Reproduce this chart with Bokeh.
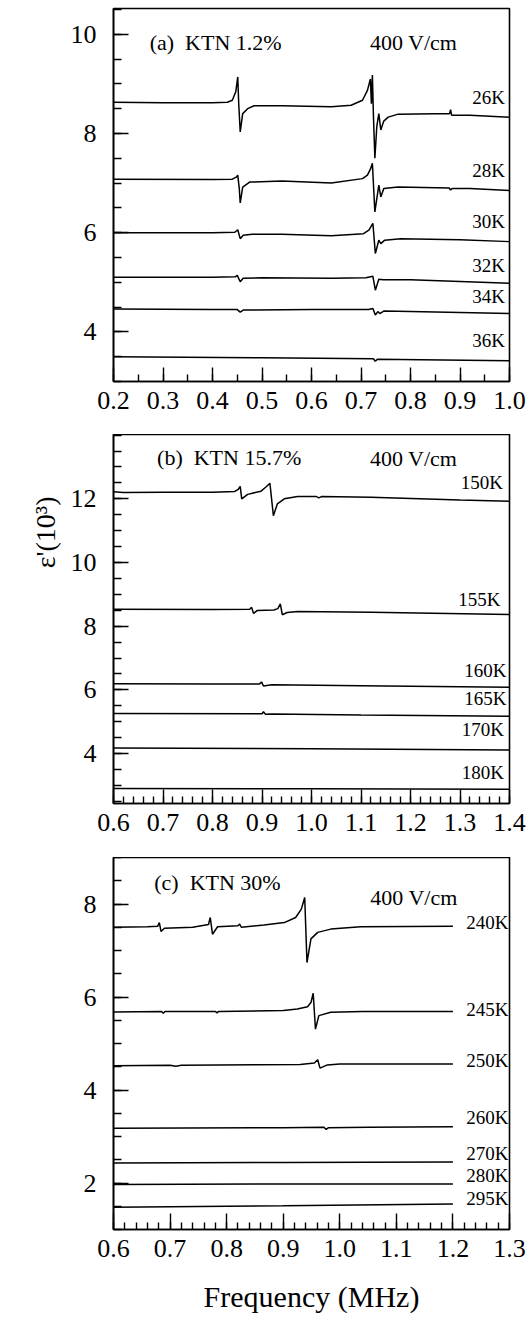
import numpy as np
from bokeh.plotting import figure
from bokeh.layouts import column
from bokeh.models import FixedTicker, NumeralTickFormatter, Label, Range1d, ColumnDataSource, Title
from bokeh.core.properties import value
from bokeh.embed import file_html
from bokeh.resources import INLINE

FONT = "Liberation Serif"

# ---------------- Panel (a): KTN 1.2%  (frequency MHz, eps' x10^3) ----------------
a26_f = [0.20, 0.30, 0.40, 0.430, 0.440, 0.447, 0.451, 0.453, 0.456, 0.461, 0.471, 0.484, 0.54, 0.64, 0.68,
         0.703, 0.713, 0.719, 0.721, 0.723, 0.725, 0.728, 0.732, 0.736, 0.740, 0.746, 0.755, 0.775, 0.85, 0.879,
         0.881, 0.883, 0.92, 1.00]
a26_e = [8.63, 8.62, 8.62, 8.63, 8.67, 8.84, 9.14, 8.60, 8.03, 8.40, 8.50, 8.56, 8.56, 8.54, 8.57,
         8.67, 8.87, 9.10, 8.60, 9.18, 8.40, 7.50, 8.15, 8.40, 8.07, 8.25, 8.33, 8.39, 8.40, 8.40,
         8.48, 8.37, 8.37, 8.33]
a28_f = [0.20, 0.40, 0.440, 0.448, 0.451, 0.454, 0.456, 0.461, 0.475, 0.54, 0.64, 0.703, 0.713, 0.719, 0.723,
         0.728, 0.736, 0.740, 0.746, 0.775, 0.878, 0.881, 0.884, 0.92, 1.00]
a28_e = [7.08, 7.07, 7.08, 7.12, 7.16, 6.90, 6.60, 6.92, 7.02, 7.04, 7.00, 7.09, 7.16, 7.28, 7.40,
         6.42, 6.96, 6.72, 6.89, 6.92, 6.90, 6.86, 6.89, 6.89, 6.85]
a30_f = [0.20, 0.40, 0.445, 0.451, 0.456, 0.462, 0.48, 0.54, 0.64, 0.705, 0.716, 0.724, 0.729, 0.736, 0.740,
         0.748, 0.78, 0.90, 1.00]
a30_e = [6.00, 6.00, 6.01, 6.06, 5.88, 5.95, 5.97, 5.97, 5.94, 5.98, 6.05, 6.19, 5.58, 5.85, 5.78,
         5.85, 5.88, 5.86, 5.82]
a32_f = [0.20, 0.40, 0.446, 0.450, 0.456, 0.462, 0.50, 0.64, 0.710, 0.724, 0.729, 0.736, 0.745, 0.80, 1.00]
a32_e = [5.10, 5.10, 5.11, 5.14, 5.01, 5.08, 5.09, 5.08, 5.09, 5.12, 4.84, 5.06, 5.05, 5.05, 4.98]
a34_f = [0.20, 0.40, 0.450, 0.456, 0.462, 0.60, 0.715, 0.724, 0.729, 0.734, 0.738, 0.746, 0.80, 1.00]
a34_e = [4.46, 4.45, 4.45, 4.40, 4.44, 4.45, 4.45, 4.47, 4.34, 4.41, 4.37, 4.42, 4.41, 4.37]
a36_f = [0.20, 0.50, 0.725, 0.729, 0.733, 1.00]
a36_e = [3.50, 3.48, 3.46, 3.41, 3.45, 3.42]
a_labels = ["26K", "28K", "30K", "32K", "34K", "36K"]
a_label_y = [8.72, 7.26, 6.22, 5.34, 4.72, 3.82]
a_label_x = [0.991, 0.991, 0.991, 0.991, 0.991, 0.991]

# ---------------- Panel (b): KTN 15.7% ----------------
b150_f = [0.60, 0.62, 0.70, 0.80, 0.845, 0.852, 0.856, 0.859, 0.871, 0.898, 0.908, 0.916, 0.923, 0.931, 0.945,
          0.972, 1.01, 1.015, 1.02, 1.12, 1.30, 1.40]
b150_e = [12.22, 12.20, 12.21, 12.21, 12.23, 12.30, 12.39, 12.00, 12.14, 12.24, 12.37, 12.49, 11.47, 11.84, 12.00,
          12.07, 12.07, 12.03, 12.07, 12.05, 11.96, 11.92]
b155_f = [0.60, 0.80, 0.875, 0.879, 0.883, 0.890, 0.924, 0.932, 0.937, 0.941, 0.951, 0.972, 1.12, 1.40]
b155_e = [8.53, 8.52, 8.53, 8.59, 8.40, 8.49, 8.51, 8.55, 8.70, 8.36, 8.43, 8.46, 8.44, 8.37]
b160_f = [0.60, 0.80, 0.895, 0.899, 0.903, 0.920, 1.10, 1.40]
b160_e = [6.19, 6.18, 6.18, 6.25, 6.12, 6.16, 6.13, 6.08]
b165_f = [0.60, 0.90, 0.903, 0.907, 0.920, 1.10, 1.40]
b165_e = [5.26, 5.25, 5.31, 5.23, 5.24, 5.21, 5.17]
b170_f = [0.60, 1.00, 1.40]
b170_e = [4.17, 4.15, 4.11]
b180_f = [0.60, 1.00, 1.40]
b180_e = [2.90, 2.89, 2.88]
b_labels = ["150K", "155K", "160K", "165K", "170K", "180K"]
b_label_y = [12.52, 8.85, 6.60, 5.74, 4.74, 3.40]
b_label_x = [1.387, 1.382, 1.394, 1.394, 1.389, 1.389]

# ---------------- Panel (c): KTN 30% ----------------
c240_f = [0.60, 0.66, 0.678, 0.681, 0.684, 0.69, 0.74, 0.768, 0.771, 0.775, 0.784, 0.82, 0.823, 0.826, 0.866,
          0.902, 0.922, 0.932, 0.938, 0.942, 0.949, 0.961, 0.984, 1.037, 1.20]
c240_e = [7.50, 7.51, 7.52, 7.60, 7.41, 7.48, 7.50, 7.56, 7.71, 7.35, 7.51, 7.53, 7.57, 7.50, 7.55,
          7.60, 7.71, 7.89, 8.14, 6.74, 7.25, 7.39, 7.46, 7.51, 7.52]
c245_f = [0.60, 0.685, 0.688, 0.691, 0.78, 0.783, 0.786, 0.90, 0.925, 0.943, 0.949, 0.953, 0.957, 0.963, 0.984,
          1.04, 1.20]
c245_e = [5.68, 5.69, 5.65, 5.69, 5.69, 5.66, 5.69, 5.71, 5.74, 5.79, 5.88, 6.08, 5.31, 5.60, 5.67,
          5.69, 5.69]
c250_f = [0.60, 0.70, 0.71, 0.72, 0.93, 0.955, 0.961, 0.965, 0.978, 1.00, 1.20]
c250_e = [4.52, 4.53, 4.51, 4.53, 4.55, 4.58, 4.65, 4.47, 4.54, 4.56, 4.56]
c260_f = [0.60, 0.90, 0.972, 0.976, 0.980, 1.05, 1.20]
c260_e = [3.18, 3.19, 3.20, 3.15, 3.19, 3.20, 3.21]
c270_f = [0.60, 0.90, 1.20]
c270_e = [2.43, 2.44, 2.45]
c280_f = [0.60, 0.90, 1.20]
c280_e = [1.97, 1.98, 1.98]
c295_f = [0.60, 0.90, 1.20]
c295_e = [1.48, 1.51, 1.55]
c_labels = ["240K", "245K", "250K", "260K", "270K", "280K", "295K"]
c_label_y = [7.60, 5.74, 4.63, 3.41, 2.64, 2.16, 1.66]
c_label_x = [1.298, 1.298, 1.298, 1.298, 1.298, 1.298, 1.298]

# ticks
a_xticks = [0.2, 0.3, 0.4, 0.5, 0.6, 0.7, 0.8, 0.9, 1.0]
b_xticks = [0.6, 0.7, 0.8, 0.9, 1.0, 1.1, 1.2, 1.3, 1.4]
c_xticks = [0.6, 0.7, 0.8, 0.9, 1.0, 1.1, 1.2, 1.3]
a_yticks = [4, 6, 8, 10]
b_yticks = [4, 6, 8, 10, 12]
c_yticks = [2, 4, 6, 8]

field_text = "400 V/cm"
SP = "\u2002"


def make_panel(xr, yr, height, btop, bbottom, xt, xminor_step, yt, x_tick_in):
    p = figure(width=531, height=height, x_range=Range1d(*xr), y_range=Range1d(*yr),
               output_backend="svg", toolbar_location=None,
               min_border_left=113, min_border_right=22, min_border_top=btop, min_border_bottom=bbottom,
               background_fill_color="white", border_fill_color="white")
    p.grid.visible = False
    p.outline_line_color = "black"
    p.outline_line_width = 1.6
    p.outline_line_alpha = 1.0
    xminor = list(np.round(np.arange(xr[0], xr[1] + 1e-9, xminor_step), 4))
    yminor = list(np.round(np.arange(np.ceil(yr[0] * 2) / 2, yr[1] + 1e-9, 0.5), 3))
    xa = p.xaxis[0]
    xa.ticker = FixedTicker(ticks=xt, minor_ticks=xminor)
    xa.formatter = NumeralTickFormatter(format="0.0")
    xa.major_tick_in = x_tick_in
    xa.major_tick_out = 0
    xa.minor_tick_in = 7
    xa.minor_tick_out = 0
    xa.major_label_standoff = 10
    ya = p.yaxis[0]
    ya.ticker = FixedTicker(ticks=yt, minor_ticks=yminor)
    ya.major_tick_in = 15
    ya.major_tick_out = 0
    ya.minor_tick_in = 8
    ya.minor_tick_out = 0
    ya.major_label_standoff = 17
    for ax in (xa, ya):
        ax.axis_line_color = "black"
        ax.axis_line_width = 1.6
        ax.major_tick_line_color = "black"
        ax.major_tick_line_width = 1.4
        ax.minor_tick_line_color = "black"
        ax.minor_tick_line_width = 1.4
        ax.major_label_text_font = FONT
        ax.major_label_text_font_size = "26px"
        ax.major_label_text_font_style = "normal"
        ax.major_label_text_color = "black"
    return p


def add_curves(p, curves):
    for f, e in curves:
        p.line(f, e, line_color="black", line_width=1.5)


def add_labels(p, xs, ys, texts):
    src = ColumnDataSource(dict(x=xs, y=ys, t=texts))
    p.text(x="x", y="y", text="t", source=src, text_font=value(FONT), text_font_size="19px",
           text_align="right", text_baseline="middle", text_color="black")


def add_note(p, x, y, txt):
    p.add_layout(Label(x=x, y=y, text=txt, text_font=FONT, text_font_size="22px",
                       text_align="left", text_baseline="middle", text_color="black"))


# (a)
pa = make_panel((0.2, 1.0), (3.0, 10.52), 434, 8, 53, a_xticks, 0.05, a_yticks, 14)
add_curves(pa, [(a26_f, a26_e), (a28_f, a28_e), (a30_f, a30_e), (a32_f, a32_e), (a34_f, a34_e), (a36_f, a36_e)])
add_labels(pa, a_label_x, a_label_y, a_labels)
add_note(pa, 0.273, 9.84, "(a)" + SP + "KTN 1.2%")
add_note(pa, 0.718, 9.84, field_text)

# (b)
pb = make_panel((0.6, 1.4), (2.43, 14.02), 423, 0, 54, b_xticks, 0.02, b_yticks, 14)
add_curves(pb, [(b150_f, b150_e), (b155_f, b155_e), (b160_f, b160_e), (b165_f, b165_e), (b170_f, b170_e), (b180_f, b180_e)])
add_labels(pb, b_label_x, b_label_y, b_labels)
add_note(pb, 0.688, 13.29, "(b)" + SP + "KTN 15.7%")
add_note(pb, 1.118, 13.26, field_text)
pb.add_layout(Title(text="ε'(10³)", align="right", offset=62, text_font=FONT, text_font_size="28px",
                    text_font_style="normal", text_color="black", standoff=14), "left")

# (c)
pc = make_panel((0.6, 1.3), (1.0, 9.0), 463, 0, 91, c_xticks, 0.02, c_yticks, 16)
add_curves(pc, [(c240_f, c240_e), (c245_f, c245_e), (c250_f, c250_e), (c260_f, c260_e), (c270_f, c270_e),
                (c280_f, c280_e), (c295_f, c295_e)])
add_labels(pc, c_label_x, c_label_y, c_labels)
add_note(pc, 0.672, 8.46, "(c)" + SP + "KTN 30%")
add_note(pc, 1.054, 8.14, field_text)
pc.xaxis[0].axis_label = "Frequency (MHz)"
pc.xaxis[0].axis_label_text_font = FONT
pc.xaxis[0].axis_label_text_font_size = "30px"
pc.xaxis[0].axis_label_text_font_style = "normal"
pc.xaxis[0].axis_label_text_color = "black"
pc.xaxis[0].axis_label_standoff = 20

layout = column(pa, pb, pc, spacing=0)
open("out.html", "w").write(file_html(layout, INLINE))
